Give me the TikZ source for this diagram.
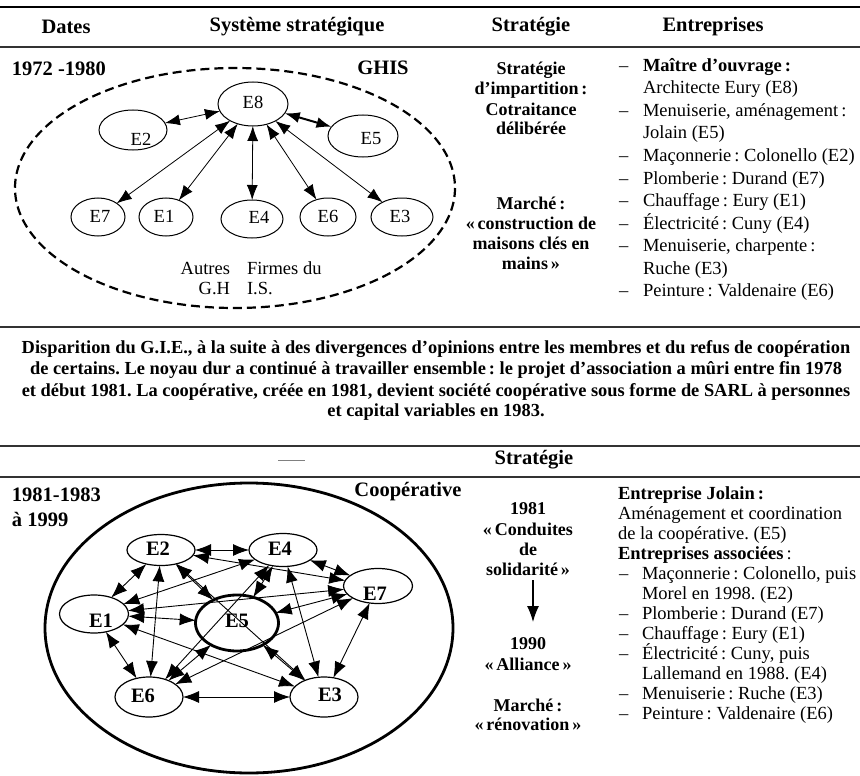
\documentclass[tikz,border=0pt]{standalone}
\usepackage{fontspec}
\setmainfont{Liberation Serif}
\usetikzlibrary{shapes.geometric,arrows.meta}
\frenchspacing
\tikzset{
  every node/.style={inner sep=0pt, outer sep=0pt},
  hd/.style={font=\fontsize{20.5}{22}\selectfont\bfseries},
  li/.style={font=\fontsize{18.5}{20}\selectfont, anchor=base west},
  sc/.style={font=\fontsize{18}{20}\selectfont\bfseries, anchor=base},
  para/.style={font=\fontsize{18.4}{21}\selectfont\bfseries, anchor=base},
  lab/.style={font=\fontsize{18.5}{20}\selectfont},
  labb/.style={font=\fontsize{20.5}{22}\selectfont\bfseries},
  ent/.style={draw, ellipse, line width=1pt, inner sep=0pt},
  entb/.style={draw, ellipse, line width=1.2pt, inner sep=0pt},
  dbl/.style={line width=0.8pt, {Latex[length=15pt,width=11pt]}-{Latex[length=15pt,width=11pt]}},
  dblb/.style={line width=0.9pt, {Latex[length=16pt,width=12pt]}-{Latex[length=16pt,width=12pt]}},
  rule/.style={line width=1.6pt, black!80},
}
\begin{document}
\begin{tikzpicture}[x=1pt,y=-1pt]
\useasboundingbox (0,0) rectangle (860,776);
% ---------- header ----------
\draw[line width=2.8pt] (0,7) -- (860,7);
\node[hd] (hDates) at (66,27) {Dates};
\node[hd] (hSys) at (297,27) {Système stratégique};
\node[hd] (hStr) at (531,27) {Stratégie};
\node[hd] (hEnt) at (713,27) {Entreprises};
\draw[rule] (0,47) -- (860,47);

% ---------- top section ----------
\node[hd, anchor=west] (d1) at (12,69) {1972 -1980};
\node[hd] (ghis) at (383,68) {GHIS};
\draw[line width=2.2pt, dash pattern=on 9pt off 5pt] (235,188) ellipse [x radius=220, y radius=120];

\node[ent, minimum width=70pt, minimum height=44pt] (tE8) at (253,104) {};
\node[lab] (tE8t) at (253,102) {E8};
\node[ent, minimum width=68pt, minimum height=40pt] (tE2) at (133,130) {};
\node[lab] (tE2t) at (141,139) {E2};
\node[ent, minimum width=70pt, minimum height=42pt] (tE5) at (363,136) {};
\node[lab] (tE5t) at (371,139) {E5};
\node[ent, minimum width=54pt, minimum height=38pt] (tE7) at (98,217) {};
\node[lab] (tE7t) at (100,216) {E7};
\node[ent, minimum width=54pt, minimum height=38pt] (tE1) at (166,217) {};
\node[lab] (tE1t) at (164,216) {E1};
\node[ent, minimum width=62pt, minimum height=38pt] (tE4) at (252,219) {};
\node[lab] (tE4t) at (259,217) {E4};
\node[ent, minimum width=56pt, minimum height=38pt] (tE6) at (328,217) {};
\node[lab] (tE6t) at (328,216) {E6};
\node[ent, minimum width=62pt, minimum height=38pt] (tE3) at (402,217) {};
\node[lab] (tE3t) at (400,216) {E3};
\foreach \b in {tE2,tE7,tE1,tE4,tE6,tE3} \draw[dbl] (tE8) -- (\b);
\draw[dbl, line width=2pt] (tE8) -- (tE5);

\node[lab, anchor=base east] (au1) at (230,274) {Autres};
\node[lab, anchor=base east] (au2) at (230,294) {G.H};
\node[lab, anchor=base west] (fi1) at (247,274) {Firmes du};
\node[lab, anchor=base west] (fi2) at (247,294) {I.S.};

% strategy column (top)
\node[sc] (s1) at (531,74.5) {Stratégie};
\node[sc] (s2) at (531,95) {d’impartition\,:};
\node[sc] (s3) at (531,115) {Cotraitance};
\node[sc] (s4) at (531,135) {délibérée};
\node[sc] (s5) at (531,209.5) {Marché\,:};
\node[sc] (s6) at (531,229.5) {«\,construction de};
\node[sc] (s7) at (531,249.5) {maisons clés en};
\node[sc] (s8) at (531,269.5) {mains\,»};

% entreprises list (top)
\node[li] (ld1) at (619,71.5) {–};  \node[li] (l1) at (643,71.5) {\bfseries Maître d’ouvrage\,:};
\node[li] (l2) at (643,94) {Architecte Eury (E8)};
\node[li] (ld3) at (619,116.5) {–}; \node[li] (l3) at (643,116.5) {Menuiserie, aménagement\,:};
\node[li] (l4) at (643,139) {Jolain (E5)};
\node[li] (ld5) at (619,161.5) {–}; \node[li] (l5) at (643,161.5) {Maçonnerie\,: Colonello (E2)};
\node[li] (ld6) at (619,184) {–}; \node[li] (l6) at (643,184) {Plomberie\,: Durand (E7)};
\node[li] (ld7) at (619,206.5) {–}; \node[li] (l7) at (643,206.5) {Chauffage\,: Eury (E1)};
\node[li] (ld8) at (619,229) {–}; \node[li] (l8) at (643,229) {Électricité\,: Cuny (E4)};
\node[li] (ld9) at (619,251.5) {–}; \node[li] (l9) at (643,251.5) {Menuiserie, charpente\,:};
\node[li] (l10) at (643,274) {Ruche (E3)};
\node[li] (ld11) at (619,296.5) {–}; \node[li] (l11) at (643,296.5) {Peinture\,: Valdenaire (E6)};

% ---------- middle paragraph ----------
\draw[rule] (0,327) -- (860,327);
\node[para] (p1) at (436,353) {Disparition du G.I.E., à la suite à des divergences d’opinions entre les membres et du refus de coopération};
\node[para] (p2) at (436,374) {de certains. Le noyau dur a continué à travailler ensemble\,: le projet d’association a mûri entre fin 1978};
\node[para] (p3) at (436,396) {et début 1981. La coopérative, créée en 1981, devient société coopérative sous forme de SARL à personnes};
\node[para] (p4) at (436,416) {et capital variables en 1983.};
\draw[rule] (0,446) -- (860,446);

% ---------- bottom header ----------
\draw[line width=0.6pt, black!50] (278,460) -- (305,460);
\node[hd] (hStr2) at (534,460) {Stratégie};
\draw[rule] (0,477) -- (860,477);

% ---------- bottom section ----------
\node[hd, anchor=west] (d2) at (12,495) {1981-1983};
\node[hd, anchor=west] (d3) at (12,519) {à 1999};
\node[hd] (coop) at (408,492) {Coopérative};
\draw[line width=2.8pt] (249,628) ellipse [x radius=204, y radius=145];

\node[entb, minimum width=68pt, minimum height=31pt] (bE2) at (161,550) {};
\node[labb] (bE2t) at (158,549) {E2};
\node[entb, minimum width=68pt, minimum height=33pt] (bE4) at (283,550) {};
\node[labb] (bE4t) at (280,549) {E4};
\node[entb, minimum width=69pt, minimum height=35pt] (bE7) at (378,586) {};
\node[labb] (bE7t) at (375,594) {E7};
\node[entb, minimum width=69pt, minimum height=38pt] (bE1) at (94,614) {};
\node[labb] (bE1t) at (101,621) {E1};
\node[entb, line width=2.8pt, minimum width=83pt, minimum height=56pt] (bE5) at (237,623) {};
\node[labb] (bE5t) at (237,621) {E5};
\node[entb, minimum width=68pt, minimum height=40pt] (bE6) at (149,697) {};
\node[labb] (bE6t) at (143,696) {E6};
\node[entb, minimum width=68pt, minimum height=40pt] (bE3) at (324,697) {};
\node[labb] (bE3t) at (330,695) {E3};
\foreach \a/\b in {bE2/bE4,bE2/bE1,bE2/bE6,bE2/bE5,bE2/bE3,bE2/bE7,
                   bE4/bE1,bE4/bE6,bE4/bE5,bE4/bE7,bE4/bE3,
                   bE7/bE1,bE7/bE5,bE7/bE6,bE7/bE3,
                   bE1/bE5,bE1/bE6,bE1/bE3,
                   bE5/bE6,bE5/bE3,bE6/bE3}
  \draw[dblb] (\a) -- (\b);

% strategy column (bottom)
\node[sc] (b1) at (528,514) {1981};
\node[sc] (b2) at (528,535) {«\,Conduites};
\node[sc] (b3) at (528,555) {de};
\node[sc] (b4) at (528,575) {solidarité\,»};
\coordinate (arrA) at (533,580);
\coordinate (arrB) at (533,622);
\draw[line width=1.2pt, -{Latex[length=16pt,width=12pt]}] (arrA) -- (arrB);
\node[sc] (b5) at (528,649) {1990};
\node[sc] (b6) at (528,670) {«\,Alliance\,»};
\node[sc] (b7) at (528,711) {Marché\,:};
\node[sc] (b8) at (528,730) {«\,rénovation\,»};

% entreprises list (bottom)
\node[li] (m1) at (618,499) {\bfseries Entreprise Jolain\,:};
\node[li] (m2) at (618,519) {Aménagement et coordination};
\node[li] (m3) at (618,539) {de la coopérative. (E5)};
\node[li] (m4) at (618,559) {\textbf{Entreprises associées}\,:};
\node[li] (md5) at (619,579) {–}; \node[li] (m5) at (642,579) {Maçonnerie\,: Colonello, puis};
\node[li] (m6) at (642,599) {Morel en 1998. (E2)};
\node[li] (md7) at (619,619) {–}; \node[li] (m7) at (642,619) {Plomberie\,: Durand (E7)};
\node[li] (md8) at (619,639) {–}; \node[li] (m8) at (642,639) {Chauffage\,: Eury (E1)};
\node[li] (md9) at (619,659) {–}; \node[li] (m9) at (642,659) {Électricité\,: Cuny, puis};
\node[li] (m10) at (642,679) {Lallemand en 1988. (E4)};
\node[li] (md11) at (619,699) {–}; \node[li] (m11) at (642,699) {Menuiserie\,: Ruche (E3)};
\node[li] (md12) at (619,719) {–}; \node[li] (m12) at (642,719) {Peinture\,: Valdenaire (E6)};
\end{tikzpicture}
\end{document}
